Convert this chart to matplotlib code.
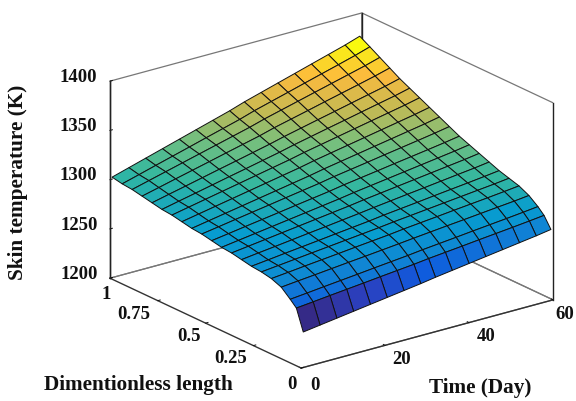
import numpy as np
import matplotlib
matplotlib.use("Agg")
import matplotlib.pyplot as plt
from matplotlib.colors import LinearSegmentedColormap, Normalize
from matplotlib.transforms import offset_copy

time_days = [0.5, 4.5, 8.5, 12.5, 16.5, 20.5, 24.5, 28.5, 32, 36, 40, 44, 48, 52, 56, 59.5]
length = [0, .036, .068, .115, .167, .219, .271, .323, .375, .427, .479, .531, .583, .635, .687, .739, .791, .843, .895, .947, 1.0]
skin_temp = [
 [1236,1238.4,1240.8,1243.2,1245.6,1248,1250.4,1252.8,1255.2,1257.6,1260,1262.4,1264.8,1267.2,1269.6,1272],
 [1257,1258.7,1260.5,1262.2,1263.9,1265.7,1267.4,1269.1,1270.9,1272.6,1274.3,1276.1,1277.8,1279.5,1281.3,1283],
 [1263,1264.7,1266.5,1268.2,1269.9,1271.7,1273.4,1275.1,1276.9,1278.6,1280.3,1282.1,1283.8,1285.5,1287.3,1289],
 [1271,1272.7,1274.3,1276,1277.7,1279.3,1281,1282.7,1284.3,1286,1287.7,1289.3,1291,1292.7,1294.3,1296],
 [1275,1276.7,1278.5,1280.2,1281.9,1283.7,1285.4,1287.1,1288.9,1290.6,1292.3,1294.1,1295.8,1297.5,1299.3,1301],
 [1277,1278.8,1280.6,1282.4,1284.2,1286,1287.8,1289.6,1291.4,1293.2,1295,1296.8,1298.6,1300.4,1302.2,1304],
 [1278,1279.9,1281.9,1283.8,1285.7,1287.7,1289.6,1291.5,1293.5,1295.4,1297.3,1299.3,1301.2,1303.1,1305.1,1307],
 [1280,1282.1,1284.1,1286.2,1288.3,1290.3,1292.4,1294.5,1296.5,1298.6,1300.7,1302.7,1304.8,1306.9,1308.9,1311],
 [1282,1284.2,1286.4,1288.6,1290.8,1293,1295.2,1297.4,1299.6,1301.8,1304,1306.2,1308.4,1310.6,1312.8,1315],
 [1283,1285.4,1287.8,1290.2,1292.6,1295,1297.4,1299.8,1302.2,1304.6,1307,1309.4,1311.8,1314.2,1316.6,1319],
 [1285,1287.5,1290.1,1292.6,1295.1,1297.7,1300.2,1302.7,1305.3,1307.8,1310.3,1312.9,1315.4,1317.9,1320.5,1323],
 [1287,1289.7,1292.5,1295.2,1297.9,1300.7,1303.4,1306.1,1308.9,1311.6,1314.3,1317.1,1319.8,1322.5,1325.3,1328],
 [1288,1291,1294,1297,1300,1303,1306,1309,1312,1315,1318,1321,1324,1327,1330,1333],
 [1290,1293.2,1296.4,1299.6,1302.8,1306,1309.2,1312.4,1315.6,1318.8,1322,1325.2,1328.4,1331.6,1334.8,1338],
 [1292,1295.4,1298.8,1302.2,1305.6,1309,1312.4,1315.8,1319.2,1322.6,1326,1329.4,1332.8,1336.2,1339.6,1343],
 [1293,1296.7,1300.3,1304,1307.7,1311.3,1315,1318.7,1322.3,1326,1329.7,1333.3,1337,1340.7,1344.3,1348],
 [1295,1298.9,1302.7,1306.6,1310.5,1314.3,1318.2,1322.1,1325.9,1329.8,1333.7,1337.5,1341.4,1345.3,1349.1,1353],
 [1297,1301.1,1305.3,1309.4,1313.5,1317.7,1321.8,1325.9,1330.1,1334.2,1338.3,1342.5,1346.6,1350.7,1354.9,1359],
 [1299,1303.4,1307.8,1312.2,1316.6,1321,1325.4,1329.8,1334.2,1338.6,1343,1347.4,1351.8,1356.2,1360.6,1365],
 [1300,1304.7,1309.5,1314.2,1318.9,1323.7,1328.4,1333.1,1337.9,1342.6,1347.3,1352.1,1356.8,1361.5,1366.3,1371],
 [1302,1307,1312,1317,1322,1327,1332,1337,1342,1347,1352,1357,1362,1367,1372,1377],
]
time_ticks = [0, 20, 40, 60]
length_ticks = [0, .25, .5, .75, 1]
length_labels = ["0", "0.25", "0.5", "0.75", "1"]
temp_ticks = [1200, 1250, 1300, 1350, 1400]

plt.rcParams["font.family"] = ["Liberation Serif", "DejaVu Serif"]
plt.rcParams["font.weight"] = "bold"

parula = LinearSegmentedColormap.from_list("parula", [
    (0.0, (.2081, .1663, .5292)), (.06, (.17, .25, .75)), (.125, (.0592, .3599, .8684)),
    (.25, (.0641, .5200, .8311)), (.375, (.0265, .6137, .8135)), (.5, (.1959, .7178, .6312)),
    (.625, (.4420, .7481, .5033)), (.75, (.7653, .7300, .3300)),
    (.875, (.9892, .7300, .2400)), (1.0, (.9763, .9831, .0538))])

W, H = 576, 401
fig = plt.figure(figsize=(W / 100, H / 100), dpi=100, facecolor="white")
S = 400
ax = fig.add_axes([126.1 / W, 5.1 / H, S / W, S / H], projection="3d", proj_type="ortho")
ax.patch.set_alpha(0)
ax.view_init(elev=20.9, azim=-127.2)
ax.set_box_aspect((1, 1, 0.667), zoom=1.2)

T, L = np.meshgrid(time_days, length)
Z = np.array(skin_temp)
colors = parula(Normalize(Z.min(), 1367, clip=True)(Z))
surf = ax.plot_surface(T, L, Z, facecolors=colors, rstride=1, cstride=1, shade=False,
                       edgecolor="#111111", linewidth=0.7, antialiased=True)
surf.set_clip_on(False)

ax.set_xlim(0, 60); ax.set_ylim(0, 1); ax.set_zlim(1200, 1400)
ax.set_xticks(time_ticks); ax.set_yticks(length_ticks, length_labels); ax.set_zticks(temp_ticks)
ax.grid(False)
for axis in (ax.xaxis, ax.yaxis, ax.zaxis):
    axis.set_pane_color((1, 1, 1, 0))
    axis.pane.set_alpha(None)
    axis.pane.set_facecolor((1, 1, 1, 0))
    axis.pane.set_edgecolor("#777777")
    axis.pane.set_linewidth(0.9)
    axis.pane.set_clip_on(False)
    axis.line.set_color("#333333")
    axis.line.set_linewidth(1.0)
    axis._axinfo["tick"]["inward_factor"] = 0.0
    axis._axinfo["tick"]["outward_factor"] = 0.12
    axis._axinfo["tick"]["linewidth"] = {True: 0.7, False: 0.5}
    axis._axinfo["tick"]["color"] = "#555555"
ax.tick_params(axis="both", labelsize=13.5, pad=-1, colors="#111111")
ax.tick_params(axis="z", pad=1)

def nudge(labels, dxs, dys, ha=None):
    for lab, dx, dy in zip(labels, dxs, dys):
        lab.set_transform(offset_copy(ax.transData, fig=fig, x=dx, y=dy, units="dots"))
        lab.set_transform = lambda *_: None   # Axis3D resets label transforms on every draw
        lab.set_clip_on(False)
        if ha:
            lab.set_ha(ha)

nudge(ax.get_xticklabels(), [5, 8, 8, 3], [4, 8, 8, 7])
nudge(ax.get_yticklabels(), [7, 5, 7, 4, 13], [4, 8, 7, 7, 5], ha="right")
nudge(ax.get_zticklabels(), [14] * 5, [11] * 5, ha="right")

# Dark back and right verticals of the box
for t_edge, l_edge in ((60, 1), (60, 0), (0, 1)):
    line, = ax.plot([t_edge, t_edge], [l_edge, l_edge], [1200, 1400], color="#222222", lw=1.0)
    line.set_clip_on(False)

tc = "#111111"
fig.text(138 / W, 1 - 385 / H, "Dimentionless length", fontsize=15.3, ha="center", va="center", color=tc)
fig.text(480 / W, 1 - 388 / H, "Time (Day)", fontsize=15.3, ha="center", va="center", color=tc)
fig.text(18 / W, 1 - 182 / H, "Skin temperature (K)", fontsize=15.3, rotation=90, ha="center", va="center", color=tc)

fig.savefig("out.png", dpi=100)
